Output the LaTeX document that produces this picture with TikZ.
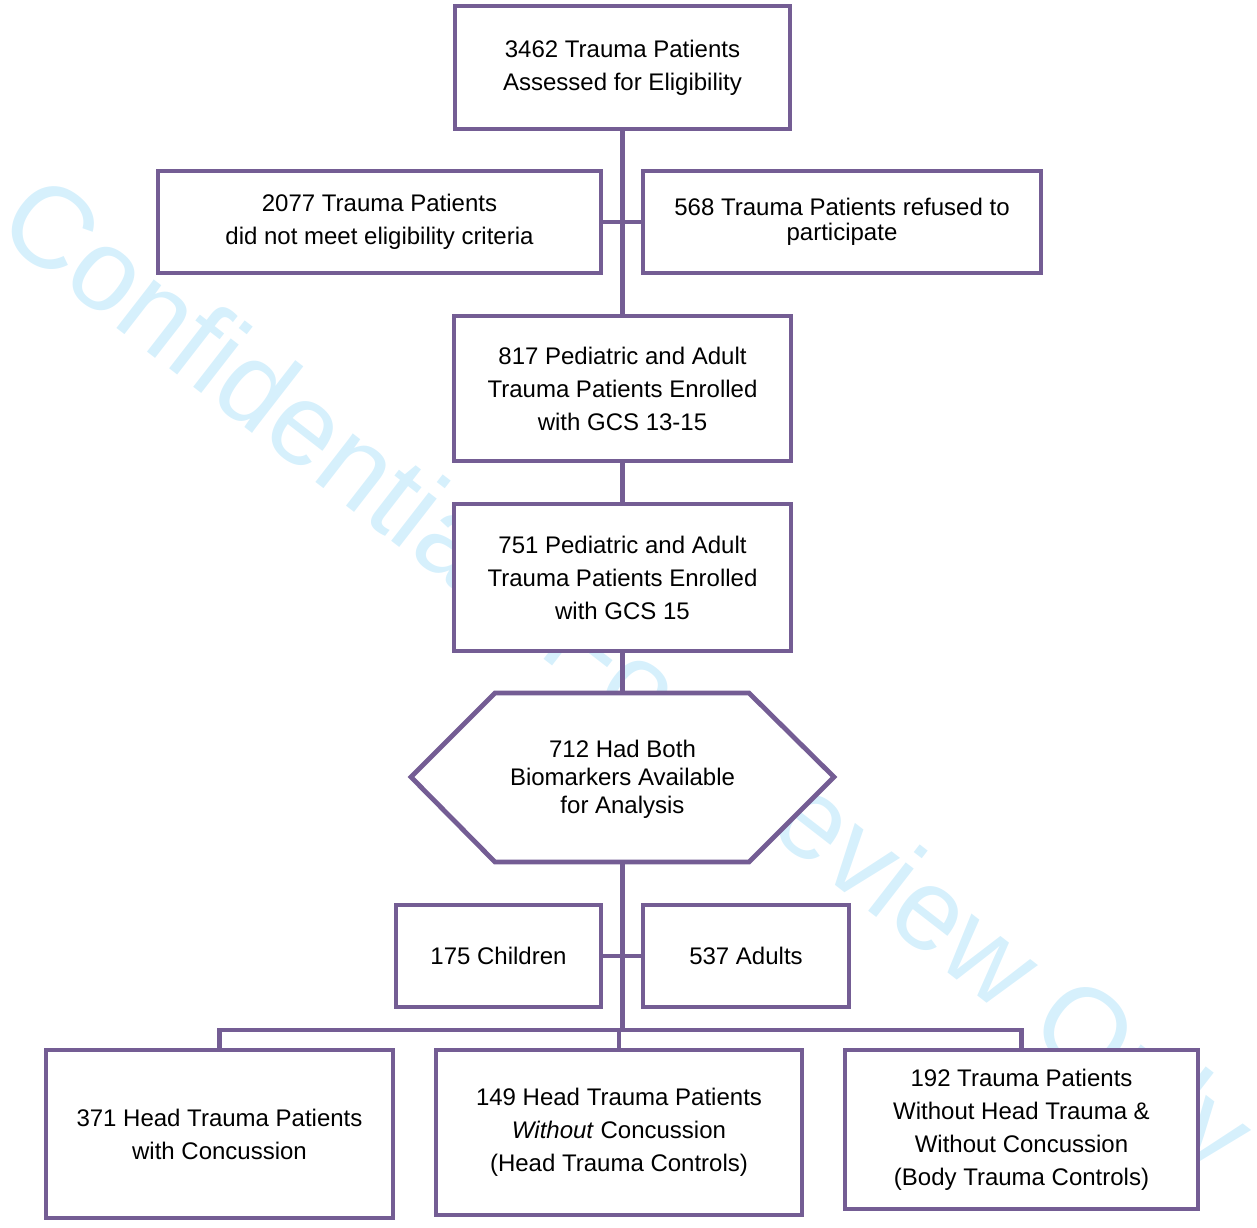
\documentclass[tikz,border=0pt]{standalone}
\usepackage{fontspec}
\setmainfont{Liberation Sans}
\definecolor{frame}{RGB}{116,93,148}
\definecolor{wmark}{RGB}{214,240,252}
\begin{document}
\begin{tikzpicture}[x=0.5pt,y=-0.5pt,
  box/.style={draw=frame, line width=2.4pt, fill=white, align=center, inner sep=0pt,
              font=\fontsize{12}{16.5}\selectfont},
  link/.style={draw=frame, line width=2.4pt}]
\useasboundingbox (0,0) rectangle (1257,1227);
% watermark
\begin{scope}
\clip (0,0) rectangle (1257,1227);
\node[font=\fontsize{58}{58}\selectfont, text=wmark, rotate=-37.8, anchor=base, inner sep=0pt] (wm) at (604,706) {Confidential: For Review Only};
\end{scope}
% nodes
\node[box, minimum width=167.5pt, minimum height=61.5pt] (b1) at (622.5,67.5) {3462 Trauma Patients\\Assessed for Eligibility};
\node[box, minimum width=221.5pt, minimum height=51pt] (b2) at (379.5,222) {2077 Trauma Patients\\did not meet eligibility criteria};
\node[box, minimum width=199pt, minimum height=51pt, font=\fontsize{12}{12.5}\selectfont] (b3) at (842,222) {568 Trauma Patients refused to\\participate};
\node[box, minimum width=168.5pt, minimum height=72.5pt] (b4) at (622.5,388.5) {817 Pediatric and Adult\\Trauma Patients Enrolled\\with GCS 13-15};
\node[box, minimum width=168.5pt, minimum height=73.5pt] (b5) at (622.5,577.5) {751 Pediatric and Adult\\Trauma Patients Enrolled\\with GCS 15};
% hexagon
\coordinate (hextop) at (622.5,693);
\coordinate (hexbot) at (622.5,862);
\draw[draw=frame, line width=2.4pt, fill=white, line join=miter]
  (411,777) -- (495,693) -- (749,693) -- (834,777) -- (749,862) -- (495,862) -- cycle;
\node[align=center, inner sep=0pt, font=\fontsize{12}{14}\selectfont] (hex) at (622.5,779) {712 Had Both\\Biomarkers Available\\for Analysis};
\node[box, minimum width=102.5pt, minimum height=51pt] (kids) at (498.5,956) {175 Children};
\node[box, minimum width=103pt, minimum height=51pt] (adults) at (746,956) {537 Adults};
\node[box, minimum width=173.5pt, minimum height=84pt] (c1) at (219.5,1134) {371 Head Trauma Patients\\with Concussion};
\node[box, minimum width=183pt, minimum height=82.5pt] (c2) at (619,1132.5) {149 Head Trauma Patients\\\textit{Without} Concussion\\(Head Trauma Controls)};
\node[box, minimum width=176.5pt, minimum height=79.5pt] (c3) at (1021.5,1129.5) {192 Trauma Patients\\Without Head Trauma \&\\Without Concussion\\(Body Trauma Controls)};
% connectors
\coordinate (bus) at (622.5,1030);
\draw[link] (b1.south) -- (b4.north);
\draw[link] (b2.east) -- (b3.west);
\draw[link] (b4.south) -- (b5.north);
\draw[link] (b5.south) -- (hextop);
\draw[link] (hexbot) -- (bus);
\draw[link] (kids.east) -- (adults.west);
\draw[link, line join=miter] (c1.north) |- (bus) -| (c3.north);
\draw[link] (c2.north) -- (c2.north |- bus);
\end{tikzpicture}
\end{document}
